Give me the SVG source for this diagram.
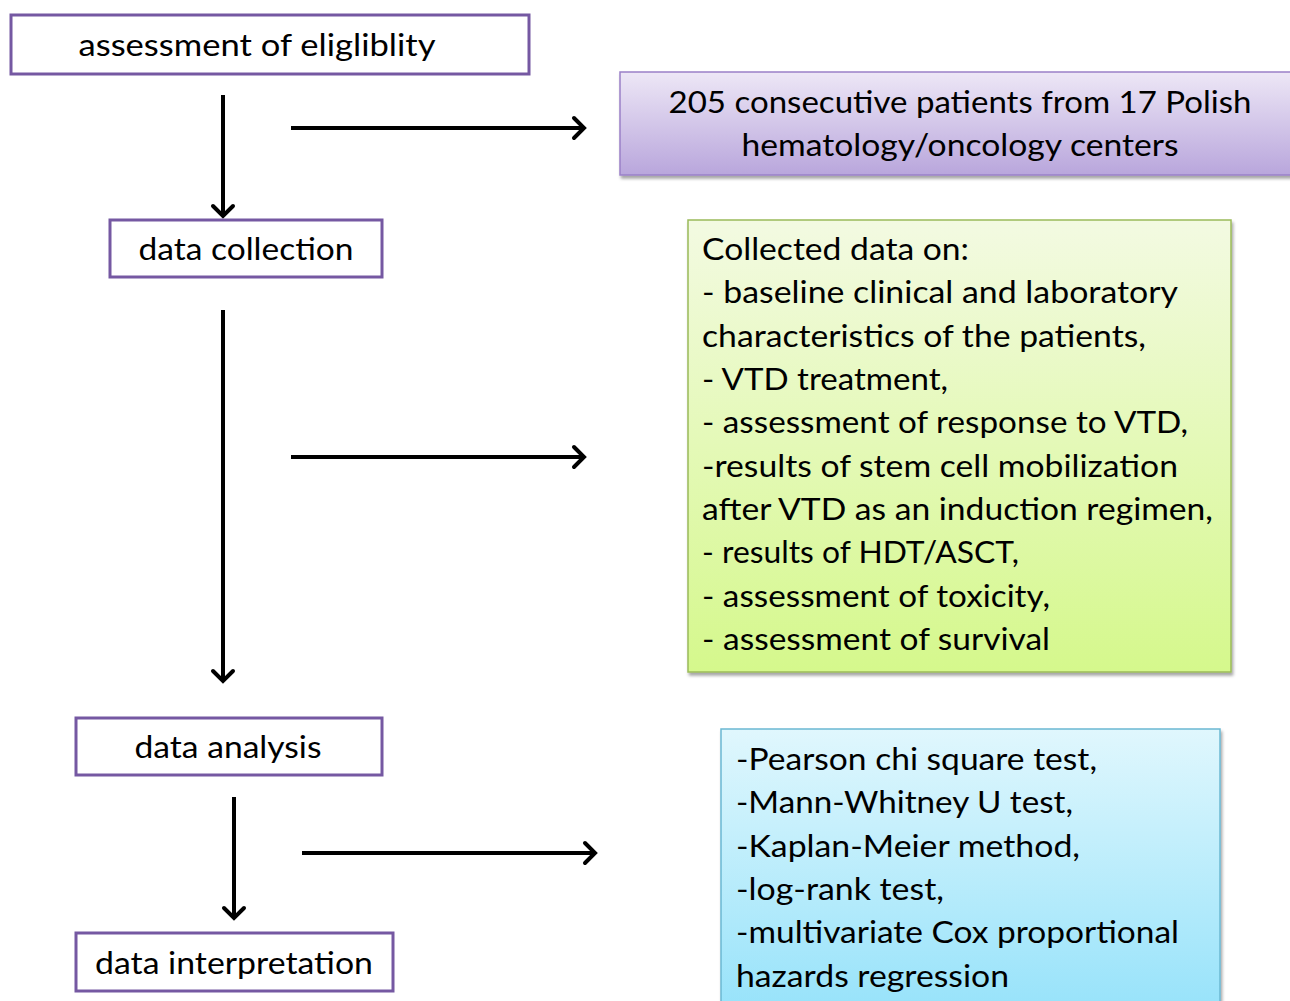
<svg xmlns="http://www.w3.org/2000/svg" width="1290" height="1001" viewBox="0 0 1290 1001">
<style>
  .t { font-family: Lato, "Open Sans", "Liberation Sans", sans-serif; font-size: 31.5px; fill: #000; }
  .c { text-anchor: middle; }
  .step { fill: #fff; stroke: #7558A2; stroke-width: 3; }
  .conn { stroke: #000; stroke-width: 4; fill: none; marker-end: url(#ah); }
</style>
<defs>
  <marker id="ah" markerUnits="userSpaceOnUse" orient="auto" markerWidth="30" markerHeight="30" refX="0" refY="0" viewBox="-15 -15 30 30" overflow="visible">
    <path d="M -10 -10 L 0 0 L -10 10" fill="none" stroke="#000" stroke-width="4" stroke-linecap="round" stroke-linejoin="miter"/>
  </marker>
  <linearGradient id="gP" x1="0" y1="0" x2="0" y2="1">
    <stop offset="0" stop-color="#EDE7F6"/>
    <stop offset="1" stop-color="#B9A6DC"/>
  </linearGradient>
  <linearGradient id="gG" x1="0" y1="0" x2="0" y2="1">
    <stop offset="0" stop-color="#F3FAE2"/>
    <stop offset="1" stop-color="#D5F88C"/>
  </linearGradient>
  <linearGradient id="gB" x1="0" y1="0" x2="0" y2="1">
    <stop offset="0" stop-color="#E0F7FD"/>
    <stop offset="1" stop-color="#95E2FA"/>
  </linearGradient>
  <filter id="sh" x="-5%" y="-5%" width="110%" height="115%">
    <feDropShadow dx="1.5" dy="3" stdDeviation="1.8" flood-color="#000" flood-opacity="0.35"/>
  </filter>
</defs>

<g id="connectors">
  <line class="conn" x1="223" y1="95" x2="223" y2="216"/>
  <line class="conn" x1="291" y1="128" x2="584" y2="128"/>
  <line class="conn" x1="223" y1="310" x2="223" y2="681"/>
  <line class="conn" x1="291" y1="457" x2="584" y2="457"/>
  <line class="conn" x1="234" y1="797" x2="234" y2="918"/>
  <line class="conn" x1="302" y1="853" x2="595" y2="853"/>
</g>

<g id="node-eligibility">
  <rect class="step" x="11" y="15" width="518" height="59"/>
  <text class="t c" x="257" y="56" textLength="357" lengthAdjust="spacingAndGlyphs">assessment of eligliblity</text>
</g>

<g id="node-collection">
  <rect class="step" x="110" y="220" width="272" height="57"/>
  <text class="t c" x="246" y="260" textLength="215" lengthAdjust="spacingAndGlyphs">data collection</text>
</g>

<g id="node-analysis">
  <rect class="step" x="76" y="718" width="306" height="57"/>
  <text class="t c" x="228" y="758" textLength="187" lengthAdjust="spacingAndGlyphs">data analysis</text>
</g>

<g id="node-interpretation">
  <rect class="step" x="76" y="933" width="317" height="58"/>
  <text class="t c" x="234" y="974" textLength="278" lengthAdjust="spacingAndGlyphs">data interpretation</text>
</g>

<g id="node-patients">
  <rect x="620" y="72" width="680" height="103" fill="url(#gP)" stroke="#9A80C8" stroke-width="1.5" filter="url(#sh)"/>
  <text class="t c" x="960" y="113" textLength="583" lengthAdjust="spacingAndGlyphs">205 consecutive patients from 17 Polish</text>
  <text class="t c" x="960" y="156" textLength="437" lengthAdjust="spacingAndGlyphs">hematology/oncology centers</text>
</g>

<g id="node-collected-data">
  <rect x="688" y="220" width="543" height="452" fill="url(#gG)" stroke="#9BBB59" stroke-width="1.5" filter="url(#sh)"/>
  <text class="t" x="702" y="260" textLength="267" lengthAdjust="spacingAndGlyphs">Collected data on:</text>
  <text class="t" x="702" y="303" textLength="476" lengthAdjust="spacingAndGlyphs">- baseline clinical and laboratory</text>
  <text class="t" x="702" y="347" textLength="444" lengthAdjust="spacingAndGlyphs">characteristics of the patients,</text>
  <text class="t" x="702" y="390" textLength="246" lengthAdjust="spacingAndGlyphs">- VTD treatment,</text>
  <text class="t" x="702" y="433" textLength="486" lengthAdjust="spacingAndGlyphs">- assessment of response to VTD,</text>
  <text class="t" x="702" y="477" textLength="476" lengthAdjust="spacingAndGlyphs">-results of stem cell mobilization</text>
  <text class="t" x="702" y="520" textLength="511" lengthAdjust="spacingAndGlyphs">after VTD as an induction regimen,</text>
  <text class="t" x="702" y="563" textLength="317" lengthAdjust="spacingAndGlyphs">- results of HDT/ASCT,</text>
  <text class="t" x="702" y="607" textLength="348" lengthAdjust="spacingAndGlyphs">- assessment of toxicity,</text>
  <text class="t" x="702" y="650" textLength="348" lengthAdjust="spacingAndGlyphs">- assessment of survival</text>
</g>

<g id="node-methods">
  <rect x="721" y="729" width="499" height="290" fill="url(#gB)" stroke="#6BB8D2" stroke-width="1.5" filter="url(#sh)"/>
  <text class="t" x="736" y="770" textLength="361" lengthAdjust="spacingAndGlyphs">-Pearson chi square test,</text>
  <text class="t" x="736" y="813" textLength="337" lengthAdjust="spacingAndGlyphs">-Mann-Whitney U test,</text>
  <text class="t" x="736" y="857" textLength="344" lengthAdjust="spacingAndGlyphs">-Kaplan-Meier method,</text>
  <text class="t" x="736" y="900" textLength="208" lengthAdjust="spacingAndGlyphs">-log-rank test,</text>
  <text class="t" x="736" y="943" textLength="443" lengthAdjust="spacingAndGlyphs">-multivariate Cox proportional</text>
  <text class="t" x="736" y="987" textLength="273" lengthAdjust="spacingAndGlyphs">hazards regression</text>
</g>
</svg>
